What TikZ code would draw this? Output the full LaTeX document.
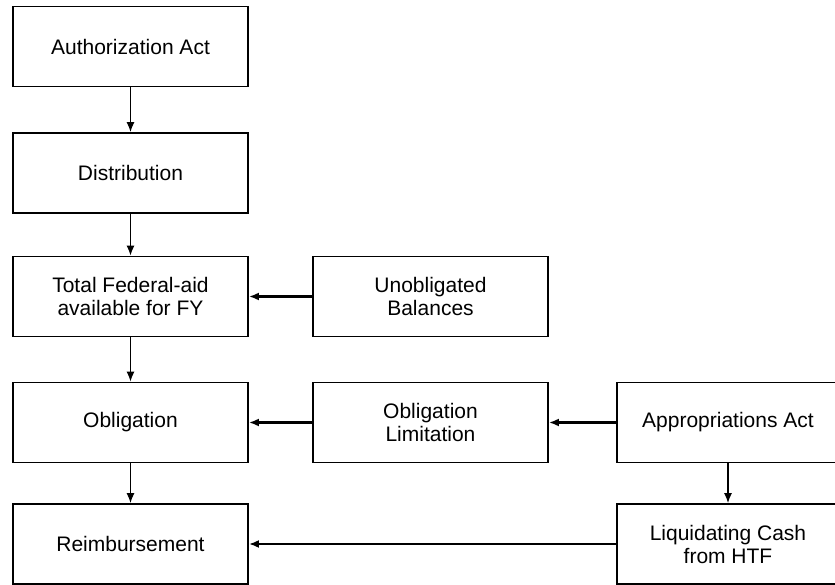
\documentclass[tikz,border=0pt]{standalone}
\usepackage{fontspec}
\setmainfont{Liberation Sans}
\usetikzlibrary{arrows.meta}
\begin{document}
\begin{tikzpicture}[x=1pt,y=-1pt,
  box/.style={draw=black, line width=1.8pt, minimum width=235pt, minimum height=80pt,
    inner sep=0pt, align=center, font=\fontsize{21}{23}\selectfont},
  wide/.style={box, minimum width=222pt},
  flow/.style={draw=black, line width=1.3pt, -{Latex[length=10pt,width=8pt]}},
  feed/.style={flow, line width=2.2pt}]
\useasboundingbox (0,0) rectangle (835,585);
\clip (0,0) rectangle (835,585);
% left column
\node[box] (auth)  at (130.5,46.5) {Authorization Act};
\node[box] (dist)  at (130.5,173)  {Distribution};
\node[box] (total) at (130.5,296.5) {Total Federal-aid\\available for FY};
\node[box] (oblig) at (130.5,422.5) {Obligation};
\node[box] (reimb) at (130.5,544)  {Reimbursement};
% middle column
\node[box] (unob)  at (430.5,296.5) {Unobligated\\Balances};
\node[box] (limit) at (430.5,422.5) {Obligation\\Limitation};
% right column (runs off the right edge)
\node[wide] (approp) at (728,422.5) {Appropriations Act};
\node[wide] (liq)    at (728,544)   {Liquidating Cash\\from HTF};
% connectors
\draw[flow] (auth) -- (dist);
\draw[flow] (dist) -- (total);
\draw[flow] (total) -- (oblig);
\draw[flow] (oblig) -- (reimb);
\draw[flow] (approp) -- (liq);
\draw[feed] (unob) -- (total);
\draw[feed] (limit) -- (oblig);
\draw[feed] (approp) -- (limit);
\draw[feed] (liq) -- (reimb);
\end{tikzpicture}
\end{document}
